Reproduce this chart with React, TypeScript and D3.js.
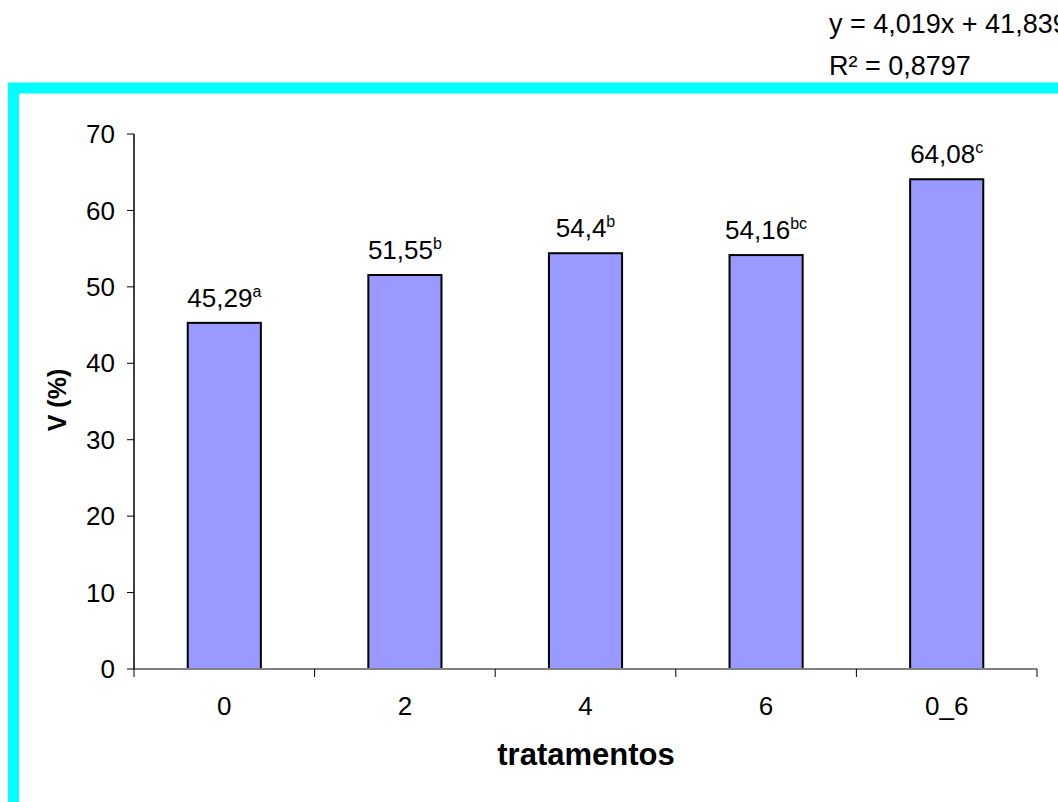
import React from "react";
import * as d3 from "d3";

const categories = ["0", "2", "4", "6", "0_6"];
const values = [45.29, 51.55, 54.4, 54.16, 64.08];
const valueLabels = ["45,29", "51,55", "54,4", "54,16", "64,08"];
const letters = ["a", "b", "b", "bc", "c"];
const yTicks = [0, 10, 20, 30, 40, 50, 60, 70];
const equationLines = ["y = 4,019x + 41,839", "R² = 0,8797"];

const W = 1058;
const H = 802;
const FONT = "'Liberation Sans', Arial, sans-serif";

export default function App() {
  const x0 = 134, x1 = 1037, yTop = 134, yBot = 669;
  const x = d3.scaleBand<string>().domain(categories).range([x0, x1]).paddingInner(0).paddingOuter(0);
  const y = d3.scaleLinear().domain([0, 70]).range([yBot, yTop]);
  const bw = x.bandwidth() * 0.405;
  const boundaries = categories.map((c) => x(c)!).concat([x1]);

  return (
    <svg width={W} height={H} style={{ position: "absolute", left: 0, top: 0, background: "#fff" }} fontFamily={FONT}>
      <rect x={0} y={0} width={W} height={H} fill="#fff" />
      {/* equation */}
      <text x={829} y={33} fontSize={27} fill="#000">{equationLines[0]}</text>
      <text x={829} y={75} fontSize={27} fill="#000">{equationLines[1]}</text>
      {/* cyan frame */}
      <rect x={13.5} y={88} width={1200} height={900} fill="none" stroke="#00FFFF" strokeWidth={11} />
      {/* bars */}
      {categories.map((c, i) => {
        const cx = x(c)! + x.bandwidth() / 2;
        return (
          <g key={c}>
            <rect x={cx - bw / 2} y={y(values[i])} width={bw} height={yBot - y(values[i])}
              fill="#9999FF" stroke="#000" strokeWidth={2} />
            <text x={cx} y={y(values[i]) - 16} fontSize={26} textAnchor="middle" fill="#000">
              {valueLabels[i]}
              <tspan fontSize={16} dy={-10}>{letters[i]}</tspan>
            </text>
          </g>
        );
      })}
      {/* x axis */}
      <line x1={x0} x2={x1} y1={yBot} y2={yBot} stroke="#808080" strokeWidth={2} />
      {boundaries.map((b, i) => (
        <line key={i} x1={b} x2={b} y1={yBot} y2={yBot + 8} stroke="#000" strokeWidth={1} />
      ))}
      {categories.map((c) => (
        <text key={c} x={x(c)! + x.bandwidth() / 2} y={715} fontSize={26} textAnchor="middle" fill="#000">{c}</text>
      ))}
      {/* y axis */}
      <line x1={x0} x2={x0} y1={yTop} y2={yBot} stroke="#000" strokeWidth={1.5} />
      {yTicks.map((t) => (
        <g key={t}>
          <line x1={x0 - 7} x2={x0} y1={y(t)} y2={y(t)} stroke="#000" strokeWidth={1} />
          <text x={115} y={y(t)} dy="0.35em" fontSize={26} textAnchor="end" fill="#000">{t}</text>
        </g>
      ))}
      {/* titles */}
      <text x={586} y={765} fontSize={31} fontWeight="bold" textAnchor="middle" fill="#000">tratamentos</text>
      <text transform={`translate(66,400) rotate(-90)`} fontSize={25} fontWeight="bold" textAnchor="middle" fill="#000">V (%)</text>
    </svg>
  );
}
